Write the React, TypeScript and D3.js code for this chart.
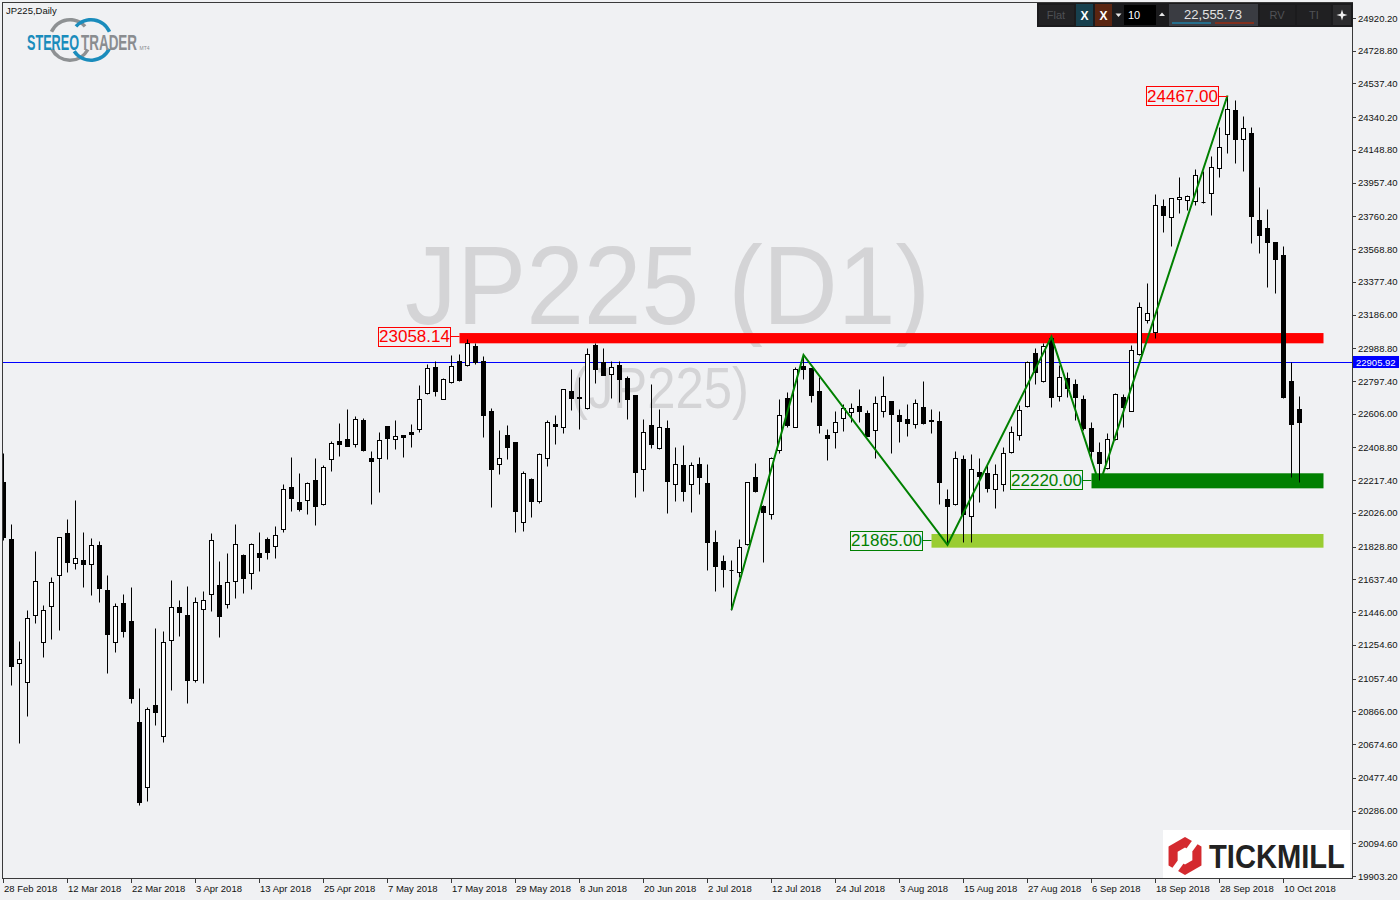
import { useMemo } from "react";
import * as d3 from "d3";

// JP225 daily bars, 28 Feb 2018 .. 12 Oct 2018 (weekdays)
const firstDay = "2018-02-28";
const lastDay = "2018-10-12";

const opens = [
  22205, 21872, 21151, 21036, 21428, 21270, 21480, 21662, 21907, 21732, 21749, 21726, 21839, 21576, 21270, 21500,
  21394, 20804, 20422, 20901, 20720, 21282, 21474, 21429, 21051, 21463, 21551, 21603, 21492, 21627, 21780, 21673,
  21792, 21872, 21831, 21934, 22178, 22088, 22100, 22217, 22077, 22340, 22447, 22459, 22428, 22570, 22347, 22346,
  22533, 22460, 22480, 22499, 22519, 22726, 22880, 22694, 22790, 22913, 22890, 23004, 22913, 22622, 22311, 22480,
  22439, 21975, 22225, 22098, 22346, 22546, 22527, 22739, 22704, 22642, 23008, 22907, 22837, 22891, 22815, 22716,
  22285, 22539, 22408, 22521, 22194, 22305, 22194, 22311, 22200, 21856, 21745, 21692, 21683, 21843, 22236, 22065,
  22018, 22392, 22698, 22530, 22885, 22872, 22739, 22482, 22501, 22580, 22615, 22651, 22611, 22509, 22622, 22681,
  22599, 22575, 22548, 22646, 22568, 22564, 22108, 22077, 22340, 22010, 22267, 22260, 22164, 22194, 22384, 22480,
  22650, 22960, 22799, 23047, 22708, 22813, 22778, 22691, 22521, 22381, 22287, 22457, 22702, 22624, 22954, 23154,
  23086, 23819, 23755, 23860, 23854, 23850, 23847, 23895, 24041, 24240, 24380, 24211, 24246, 23739, 23692, 23609,
  23534, 22798, 22634,
];
const highs = [
  22379, 21962, 21278, 21459, 21804, 21488, 21652, 21886, 21991, 22102, 21915, 21880, 21862, 21663, 21500, 21552,
  21593, 21003, 20890, 21353, 21336, 21634, 21517, 21599, 21535, 21570, 21909, 21745, 21792, 21962, 21786, 21849,
  21915, 21884, 21950, 22195, 22355, 22260, 22209, 22349, 22307, 22447, 22552, 22634, 22591, 22580, 22388, 22499,
  22535, 22570, 22482, 22544, 22774, 22899, 22913, 22817, 22951, 22956, 23042, 23018, 22944, 22638, 22511, 22540,
  22443, 22271, 22228, 22375, 22570, 22599, 22751, 22868, 22823, 22989, 23018, 22989, 22913, 22913, 22825, 22718,
  22574, 22780, 22634, 22570, 22412, 22423, 22326, 22353, 22312, 21926, 21780, 21751, 21872, 22207, 22316, 22073,
  22353, 22692, 22735, 22878, 22950, 22874, 22823, 22517, 22620, 22665, 22669, 22751, 22630, 22712, 22827, 22683,
  22634, 22661, 22692, 22798, 22636, 22622, 22166, 22388, 22363, 22369, 22349, 22307, 22311, 22410, 22535, 22657,
  22915, 22992, 23018, 23058, 22891, 22852, 22809, 22716, 22560, 22439, 22494, 22729, 22722, 23008, 23261, 23369,
  23889, 23862, 23868, 23989, 23885, 24035, 24027, 24113, 24285, 24467, 24441, 24347, 24281, 23932, 23803, 23611,
  23589, 22906, 22710,
];
const lows = [
  21868, 21022, 20683, 20841, 21385, 21182, 21291, 21343, 21683, 21700, 21595, 21548, 21507, 21092, 21215, 21303,
  20913, 20319, 20344, 20788, 20689, 20993, 21308, 20917, 21039, 21034, 21455, 21303, 21472, 21531, 21556, 21583,
  21689, 21759, 21765, 21917, 22038, 22038, 22018, 21957, 22071, 22273, 22361, 22416, 22413, 22388, 22080, 22149,
  22343, 22402, 22355, 22413, 22501, 22724, 22712, 22691, 22788, 22799, 22888, 22899, 22472, 22063, 22252, 22343,
  21913, 21922, 22004, 22083, 22302, 22431, 22495, 22628, 22519, 22634, 22788, 22833, 22698, 22675, 22577, 22118,
  22154, 22404, 22402, 22028, 22098, 22098, 22033, 22139, 21694, 21572, 21593, 21459, 21653, 21841, 22150, 21741,
  21993, 22379, 22530, 22528, 22809, 22677, 22495, 22336, 22408, 22505, 22560, 22560, 22474, 22349, 22589, 22379,
  22443, 22476, 22525, 22544, 22495, 22078, 21850, 22075, 21855, 21855, 22088, 22147, 22053, 22155, 22377, 22453,
  22648, 22778, 22794, 22647, 22681, 22706, 22570, 22511, 22346, 22194, 22285, 22455, 22530, 22622, 22952, 23139,
  23047, 23671, 23589, 23782, 23798, 23827, 23837, 23766, 23989, 24129, 24074, 24027, 23603, 23544, 23349, 23310,
  22696, 22238, 22209,
];
const closes = [
  21887, 21133, 21171, 21410, 21627, 21457, 21621, 21884, 21741, 21761, 21730, 21837, 21589, 21320, 21480, 21338,
  20946, 20338, 20878, 20864, 21270, 21474, 21449, 21051, 21504, 21515, 21866, 21425, 21621, 21843, 21648, 21843,
  21767, 21800, 21896, 22164, 22115, 22051, 22200, 22069, 22295, 22433, 22431, 22419, 22574, 22396, 22328, 22451,
  22463, 22476, 22472, 22490, 22692, 22874, 22741, 22809, 22885, 22804, 23018, 22907, 22601, 22281, 22346, 22413,
  22039, 22258, 22098, 22369, 22556, 22533, 22749, 22700, 22696, 22956, 22870, 22835, 22878, 22811, 22694, 22267,
  22498, 22428, 22527, 22215, 22311, 22156, 22305, 22238, 21858, 21718, 21700, 21690, 21825, 22205, 22155, 22033,
  22347, 22597, 22540, 22866, 22870, 22718, 22542, 22466, 22556, 22638, 22642, 22620, 22476, 22667, 22710, 22606,
  22566, 22550, 22667, 22552, 22562, 22209, 22069, 22346, 22022, 22281, 22242, 22174, 22252, 22379, 22501, 22626,
  22907, 22852, 23004, 22706, 22819, 22758, 22706, 22525, 22390, 22316, 22457, 22722, 22647, 22977, 23232, 23194,
  23825, 23766, 23866, 23872, 23879, 24000, 23845, 24047, 24164, 24386, 24211, 24275, 23762, 23650, 23609, 23509,
  22702, 22544, 22556,
];

const priceTicks = [
  24920.2, 24728.8, 24537.4, 24340.2, 24148.8, 23957.4, 23760.2, 23568.8, 23377.4, 23186.0, 22988.8, 22797.4,
  22606.0, 22408.8, 22217.4, 22026.0, 21828.8, 21637.4, 21446.0, 21254.6, 21057.4, 20866.0, 20674.6, 20477.4,
  20286.0, 20094.6, 19903.2,
];
const dateTicks = [
  "28 Feb 2018", "12 Mar 2018", "22 Mar 2018", "3 Apr 2018", "13 Apr 2018", "25 Apr 2018", "7 May 2018",
  "17 May 2018", "29 May 2018", "8 Jun 2018", "20 Jun 2018", "2 Jul 2018", "12 Jul 2018", "24 Jul 2018",
  "3 Aug 2018", "15 Aug 2018", "27 Aug 2018", "6 Sep 2018", "18 Sep 2018", "28 Sep 2018", "10 Oct 2018",
];

const bidPrice = 22905.92;
const lastPrice = "22,555.73";

// price zones drawn as rectangles, running past the last bar
const zoneStart = ["2018-05-18", "2018-09-06", "2018-08-09"];
const zoneTop = [23078, 22258, 21903];
const zoneBottom = [23018, 22170, 21823];
const zoneColor = ["#ff0000", "#008000", "#9acd32"];
const zoneEndBar = 165;

// price labels with a short leader line
const labelText = ["23058.14", "22220.00", "21865.00", "24467.00"];
const labelPrice = [23058.14, 22220, 21865, 24467];
const labelAnchor = ["2018-05-18", "2018-09-06", "2018-08-09", "2018-10-01"];
const labelColor = ["#ff0000", "#008000", "#008000", "#ff0000"];

// zigzag swing points
const zigDates = ["2018-07-05", "2018-07-18", "2018-08-13", "2018-08-30", "2018-09-07", "2018-10-01"];
const zigPrices = [21459, 22950, 21840, 23057, 22194, 24467];

const W = 1400;
const H = 900;
const plot = { left: 3, top: 3, right: 1352, bottom: 878 };
const bg = "#f0f1f3";
const axisFont = "'Liberation Sans', Arial, sans-serif";

function StereoLogo() {
  const arc = d3.arc<{ s: number; e: number }>().innerRadius(18.5).outerRadius(22).startAngle((d) => d.s).endAngle((d) => d.e);
  const rad = Math.PI / 180;
  const gray = [{ s: -66 * rad, e: 48 * rad }, { s: 118 * rad, e: 244 * rad }];
  const blue = [{ s: -48 * rad, e: 66 * rad }, { s: 116 * rad, e: 236 * rad }];
  return (
    <g>
      <g transform="translate(70,40)">
        {gray.map((d, i) => (
          <path key={i} d={arc(d) ?? ""} fill="#8e9193" />
        ))}
      </g>
      <g transform="translate(91,40)">
        {blue.map((d, i) => (
          <path key={i} d={arc(d) ?? ""} fill="#1a8cbc" />
        ))}
      </g>
      <text transform="translate(27,49.5) scale(0.703,1.25)" fontFamily={axisFont} fontWeight="bold" fontSize={18} fill="#1a8cbc" textLength={74} lengthAdjust="spacingAndGlyphs">
        STEREO
      </text>
      <text transform="translate(81,49.5) scale(0.747,1.25)" fontFamily={axisFont} fontWeight="bold" fontSize={18} fill="#8a8d90" textLength={75} lengthAdjust="spacingAndGlyphs">
        TRADER
      </text>
      <text x={139.5} y={49.5} fontFamily={axisFont} fontSize={5} fill="#8a8d90">
        MT4
      </text>
    </g>
  );
}

function Toolbar() {
  const f = axisFont;
  return (
    <g fontFamily={f}>
      <rect x={1037} y={3} width={316} height={24} fill="#1b1b1d" />
      <rect x={1039} y={5} width={35} height={20} fill="#222224" />
      <text x={1056} y={19} fontSize={11} fill="#4e5054" textAnchor="middle">Flat</text>
      <rect x={1076} y={4} width={17} height={22} fill="#17404e" />
      <text x={1084.5} y={19.5} fontSize={12} fontWeight="bold" fill="#ffffff" textAnchor="middle">X</text>
      <rect x={1095} y={4} width={17} height={22} fill="#5a2511" />
      <text x={1103.5} y={19.5} fontSize={12} fontWeight="bold" fill="#ffffff" textAnchor="middle">X</text>
      <path d="M1115.5,13.5 L1121.5,13.5 L1118.5,17 Z" fill="#e6e6e6" />
      <rect x={1124} y={5} width={32} height={20} fill="#000000" />
      <text x={1128} y={19} fontSize={11} fill="#ffffff">10</text>
      <path d="M1159,16 L1165,16 L1162,12.5 Z" fill="#e6e6e6" />
      <rect x={1169} y={4} width={89} height={22} fill="#3a3c42" />
      <text x={1213} y={19} fontSize={13} fill="#e2e2e2" textAnchor="middle">{lastPrice}</text>
      <line x1={1172} x2={1211} y1={23} y2={23} stroke="#1f7fa6" strokeWidth={1.5} />
      <line x1={1215} x2={1254} y1={23} y2={23} stroke="#9a2c12" strokeWidth={1.5} />
      <rect x={1260} y={5} width={35} height={20} fill="#202022" />
      <text x={1277} y={19} fontSize={11} fill="#505256" textAnchor="middle">RV</text>
      <rect x={1297} y={5} width={34} height={20} fill="#202022" />
      <text x={1314} y={19} fontSize={11} fill="#505256" textAnchor="middle">TI</text>
      <rect x={1333} y={5} width={18} height={20} fill="#2c2c2e" />
      <path d="M1342,9.5 L1343.3,13.7 L1347.5,15 L1343.3,16.3 L1342,20.5 L1340.7,16.3 L1336.5,15 L1340.7,13.7 Z" fill="#f0f0f0" />
    </g>
  );
}

function TickmillLogo() {
  const cx = 1185;
  const cy = 856;
  const hex = (r: number) =>
    d3.range(6).map((k) => {
      const a = (Math.PI / 3) * k - Math.PI / 2;
      return [cx + r * Math.cos(a), cy + r * Math.sin(a)] as [number, number];
    });
  const line = d3.line();
  return (
    <g>
      <rect x={1163} y={830} width={187} height={48} fill="#ffffff" />
      <path d={(line(hex(19)) ?? "") + "Z"} fill="#d42a2f" />
      <path d={(line(hex(8.5)) ?? "") + "Z"} fill="#ffffff" />
      <path d={`M${cx + 3},${cy - 20} L${cx + 9},${cy - 17} L${cx - 3},${cy + 20} L${cx - 9},${cy + 17} Z`} fill="#ffffff" transform={`rotate(18 ${cx} ${cy})`} />
      <text transform="translate(1209,868) scale(0.857,1)" fontFamily={axisFont} fontWeight="bold" fontSize={34} fill="#222222" textLength={158.6} lengthAdjust="spacingAndGlyphs">
        TICKMILL
      </text>
    </g>
  );
}

export default function App() {
  const dates = useMemo(
    () =>
      d3.utcDay
        .range(new Date(firstDay + "T00:00:00Z"), d3.utcDay.offset(new Date(lastDay + "T00:00:00Z"), 1))
        .filter((d) => d.getUTCDay() % 6 !== 0),
    []
  );
  const isoFmt = d3.utcFormat("%Y-%m-%d");
  const tickFmt = d3.utcFormat("%-d %b %Y");
  const barOf = useMemo(() => new Map(dates.map((d, i) => [isoFmt(d), i])), [dates]);
  const tickBar = useMemo(() => new Map(dates.map((d, i) => [tickFmt(d), i])), [dates]);

  const x = d3.scaleLinear().domain([0, dates.length - 1]).range([3, 3 + 8 * (dates.length - 1)]);
  const y = d3.scaleLinear().domain([19903.2, 24920.2]).range([876, 18]);
  const py = (v: number) => Math.round(y(v)) + 0.5;

  const candles = dates.map((d, i) => ({ i, o: opens[i], h: highs[i], l: lows[i], c: closes[i] }));
  const zig = d3
    .line<number>()
    .x((_, k) => x(barOf.get(zigDates[k]) ?? 0) + 0.5)
    .y((v) => y(v));

  return (
    <svg width={W} height={H} style={{ position: "absolute", left: 0, top: 0, display: "block" }} xmlns="http://www.w3.org/2000/svg">
      <defs>
        <clipPath id="plotClip">
          <rect x={plot.left} y={plot.top} width={plot.right - plot.left} height={plot.bottom - plot.top} />
        </clipPath>
      </defs>
      <rect x={0} y={0} width={W} height={H} fill={bg} />

      {/* watermark */}
      <g fontFamily={axisFont} fill="#d4d4d6">
        <text x={405} y={324} fontSize={112} textLength={525} lengthAdjust="spacingAndGlyphs">
          JP225 (D1)
        </text>
        <text x={571} y={408} fontSize={57} textLength={178} lengthAdjust="spacingAndGlyphs">
          (JP225)
        </text>
      </g>

      <g clipPath="url(#plotClip)">
        {zoneStart.map((s, k) => (
          <rect
            key={s + k}
            x={x(barOf.get(s) ?? 0) + 0.5}
            y={y(zoneTop[k])}
            width={x(zoneEndBar) - x(barOf.get(s) ?? 0)}
            height={y(zoneBottom[k]) - y(zoneTop[k])}
            fill={zoneColor[k]}
          />
        ))}

        <line x1={plot.left} x2={plot.right} y1={py(bidPrice)} y2={py(bidPrice)} stroke="#0000ff" strokeWidth={1} />

        {candles.map((k) => {
          const cx = x(k.i) + 0.5;
          const top = py(Math.max(k.o, k.c));
          const bot = py(Math.min(k.o, k.c));
          const bull = k.c > k.o;
          return (
            <g key={k.i}>
              <line x1={cx} x2={cx} y1={py(k.h)} y2={py(k.l)} stroke="#000000" strokeWidth={1} />
              {bot - top < 1 ? (
                <line x1={cx - 2} x2={cx + 2} y1={top} y2={top} stroke="#000000" strokeWidth={1} />
              ) : (
                <rect x={cx - 2} y={top} width={4} height={bot - top} fill={bull ? "#ffffff" : "#000000"} stroke="#000000" strokeWidth={1} />
              )}
            </g>
          );
        })}

        <path d={zig(zigPrices) ?? ""} fill="none" stroke="#008000" strokeWidth={2} />

        {labelText.map((t, k) => {
          const ax = x(barOf.get(labelAnchor[k]) ?? 0);
          const cy = y(labelPrice[k]);
          const bw = 72;
          const bx = Math.round(ax - 9 - bw) + 0.5;
          return (
            <g key={t}>
              <line x1={bx + bw} x2={ax + 0.5} y1={Math.round(cy) + 0.5} y2={Math.round(cy) + 0.5} stroke={labelColor[k]} strokeWidth={1} />
              <rect x={bx} y={Math.round(cy - 9.5) + 0.5} width={bw} height={19} fill={bg} stroke={labelColor[k]} strokeWidth={1} />
              <text x={bx + bw / 2} y={cy + 6} textAnchor="middle" fontFamily={axisFont} fontSize={17} fill={labelColor[k]}>
                {t}
              </text>
            </g>
          );
        })}
      </g>

      {/* frame */}
      <g stroke="#3a3a3a" strokeWidth={1} fill="none">
        <line x1={2.5} x2={2.5} y1={2} y2={879} />
        <line x1={2} x2={1353} y1={2.5} y2={2.5} />
        <line x1={plot.right + 0.5} x2={plot.right + 0.5} y1={2} y2={879} />
        <line x1={2} x2={1353} y1={plot.bottom + 0.5} y2={plot.bottom + 0.5} />
      </g>

      {/* price axis */}
      <g fontFamily={axisFont} fontSize={9.5} fill="#111111">
        {priceTicks.map((v) => (
          <g key={v}>
            <line x1={plot.right + 1} x2={plot.right + 4} y1={py(v)} y2={py(v)} stroke="#3a3a3a" />
            <text x={1358} y={y(v) + 3.5}>{v.toFixed(2)}</text>
          </g>
        ))}
        <rect x={1353} y={py(bidPrice) - 6.5} width={46} height={12} fill="#0000ff" />
        <text x={1356} y={y(bidPrice) + 3.5} fill="#ffffff">{bidPrice.toFixed(2)}</text>
      </g>

      {/* time axis */}
      <g fontFamily={axisFont} fontSize={9.5} fill="#111111">
        {dateTicks.map((t) => {
          const tx = x(tickBar.get(t) ?? 0) + 0.5;
          return (
            <g key={t}>
              <line x1={tx} x2={tx} y1={plot.bottom + 1} y2={plot.bottom + 5} stroke="#3a3a3a" />
              <text x={tx + 0.5} y={892}>{t}</text>
            </g>
          );
        })}
      </g>

      <text x={6} y={14} fontFamily={axisFont} fontSize={9.5} fill="#111111">JP225,Daily</text>
      <StereoLogo />
      <Toolbar />
      <TickmillLogo />
    </svg>
  );
}
